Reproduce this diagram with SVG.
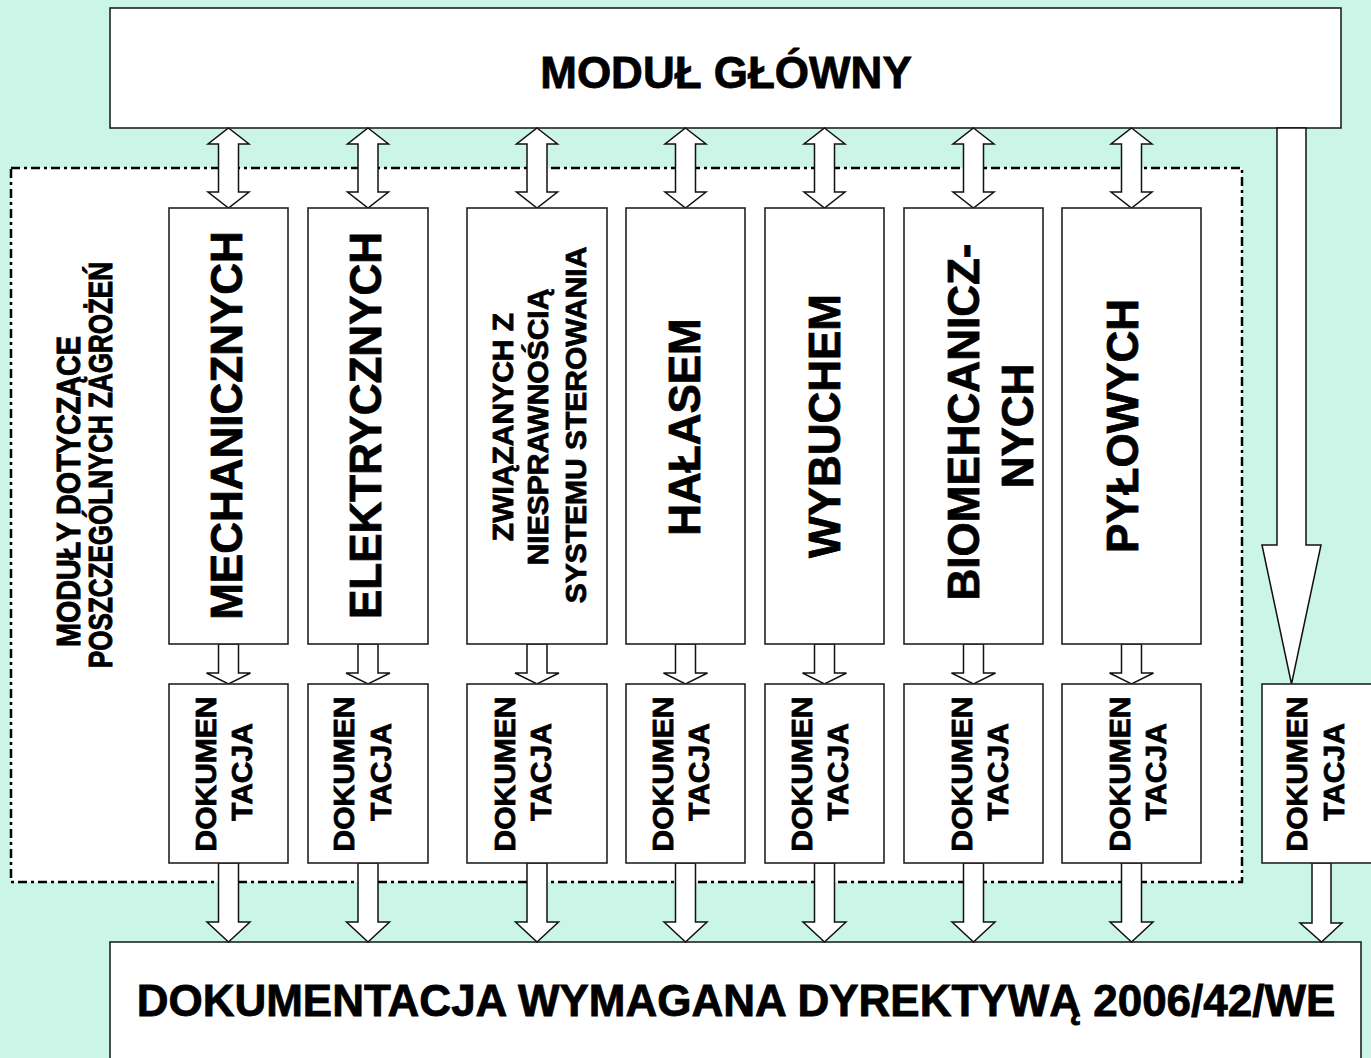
<svg xmlns="http://www.w3.org/2000/svg" width="1371" height="1058" viewBox="0 0 1371 1058">
<style>
.box{fill:#fff;stroke:#222;stroke-width:1.6}
.arr{fill:#fff;stroke:#111;stroke-width:1.5;stroke-linejoin:miter}
.t{font-family:"Liberation Sans",Arial,sans-serif;font-weight:bold;fill:#000;stroke:#000;stroke-width:0.8}
.big{font-size:44px}
.mid{font-size:30px}
.side{font-size:34px;stroke-width:1}
</style>
<rect x="0" y="0" width="1371" height="1058" fill="#CBF5E6"/>
<g id="group-frame">
<rect x="11" y="168" width="1231" height="714" fill="#fff" stroke="#000" stroke-width="2.5" stroke-dasharray="9 4 3 4"/>
<text class="t side" transform="translate(80,491.5) rotate(-90)" text-anchor="middle" textLength="311" lengthAdjust="spacingAndGlyphs">MODUŁY DOTYCZĄCE</text>
<text class="t side" transform="translate(112,465) rotate(-90)" text-anchor="middle" textLength="406" lengthAdjust="spacingAndGlyphs">POSZCZEGÓLNYCH ZAGROŻEŃ</text>
</g>
<g id="node-main">
<rect class="box" x="110" y="8" width="1231" height="120"/>
<text class="t big" x="726" y="88" text-anchor="middle">MODUŁ GŁÓWNY</text>
</g>
<g id="node-docall">
<rect class="box" x="110" y="942" width="1251" height="130"/>
<text class="t big" x="736" y="1016" text-anchor="middle">DOKUMENTACJA WYMAGANA DYREKTYWĄ 2006/42/WE</text>
</g>
<g id="connectors">
<polygon class="arr" points="228.5,128 249,144 238.5,144 238.5,192 249,192 228.5,208 208,192 218.5,192 218.5,144 208,144"/>
<polygon class="arr" points="368,128 388.5,144 378,144 378,192 388.5,192 368,208 347.5,192 358,192 358,144 347.5,144"/>
<polygon class="arr" points="537,128 557.5,144 547,144 547,192 557.5,192 537,208 516.5,192 527,192 527,144 516.5,144"/>
<polygon class="arr" points="685.5,128 706,144 695.5,144 695.5,192 706,192 685.5,208 665,192 675.5,192 675.5,144 665,144"/>
<polygon class="arr" points="824.5,128 845,144 834.5,144 834.5,192 845,192 824.5,208 804,192 814.5,192 814.5,144 804,144"/>
<polygon class="arr" points="973.5,128 994,144 983.5,144 983.5,192 994,192 973.5,208 953,192 963.5,192 963.5,144 953,144"/>
<polygon class="arr" points="1131.5,128 1152,144 1141.5,144 1141.5,192 1152,192 1131.5,208 1111,192 1121.5,192 1121.5,144 1111,144"/>
<polygon class="arr" points="218.5,644 238.5,644 238.5,673 250.5,673 228.5,684 206.5,673 218.5,673"/>
<polygon class="arr" points="358,644 378,644 378,673 390,673 368,684 346,673 358,673"/>
<polygon class="arr" points="527,644 547,644 547,673 559,673 537,684 515,673 527,673"/>
<polygon class="arr" points="675.5,644 695.5,644 695.5,673 707.5,673 685.5,684 663.5,673 675.5,673"/>
<polygon class="arr" points="814.5,644 834.5,644 834.5,673 846.5,673 824.5,684 802.5,673 814.5,673"/>
<polygon class="arr" points="963.5,644 983.5,644 983.5,673 995.5,673 973.5,684 951.5,673 963.5,673"/>
<polygon class="arr" points="1121.5,644 1141.5,644 1141.5,673 1153.5,673 1131.5,684 1109.5,673 1121.5,673"/>
<polygon class="arr" points="218.5,863 238.5,863 238.5,922 250,922 228.5,942 207,922 218.5,922"/>
<polygon class="arr" points="358,863 378,863 378,922 389.5,922 368,942 346.5,922 358,922"/>
<polygon class="arr" points="527,863 547,863 547,922 558.5,922 537,942 515.5,922 527,922"/>
<polygon class="arr" points="675.5,863 695.5,863 695.5,922 707,922 685.5,942 664,922 675.5,922"/>
<polygon class="arr" points="814.5,863 834.5,863 834.5,922 846,922 824.5,942 803,922 814.5,922"/>
<polygon class="arr" points="963.5,863 983.5,863 983.5,922 995,922 973.5,942 952,922 963.5,922"/>
<polygon class="arr" points="1121.5,863 1141.5,863 1141.5,922 1153,922 1131.5,942 1110,922 1121.5,922"/>
<polygon class="arr" points="1277,128 1306,128 1306,545 1321,545 1291.5,684 1262,545 1277,545"/>
<polygon class="arr" points="1312,863 1331,863 1331,923 1342,923 1321.5,942 1300,923 1312,923"/>
</g>
<g id="node-mech">
<rect class="box" x="169" y="208" width="119" height="436"/>
<text class="t big" transform="translate(242,425.5) rotate(-90)" text-anchor="middle">MECHANICZNYCH</text>
</g>
<g id="node-elek">
<rect class="box" x="308" y="208" width="120" height="436"/>
<text class="t big" transform="translate(381,425.5) rotate(-90)" text-anchor="middle">ELEKTRYCZNYCH</text>
</g>
<g id="node-ster">
<rect class="box" x="467" y="208" width="140" height="436"/>
<text class="t mid" transform="translate(513,427) rotate(-90)" text-anchor="middle">ZWIĄZANYCH Z</text>
<text class="t mid" transform="translate(548,427) rotate(-90)" text-anchor="middle">NIESPRAWNOŚCIĄ</text>
<text class="t mid" transform="translate(586,425) rotate(-90)" text-anchor="middle">SYSTEMU STEROWANIA</text>
</g>
<g id="node-halas">
<rect class="box" x="626" y="208" width="119" height="436"/>
<text class="t big" transform="translate(700,427) rotate(-90)" text-anchor="middle">HAŁASEM</text>
</g>
<g id="node-wybuch">
<rect class="box" x="765" y="208" width="119" height="436"/>
<text class="t big" transform="translate(840,426) rotate(-90)" text-anchor="middle">WYBUCHEM</text>
</g>
<g id="node-bio">
<rect class="box" x="904" y="208" width="139" height="436"/>
<text class="t big" transform="translate(979,422) rotate(-90)" text-anchor="middle">BIOMEHCANICZ-</text>
<text class="t big" transform="translate(1033,426) rotate(-90)" text-anchor="middle">NYCH</text>
</g>
<g id="node-pyl">
<rect class="box" x="1062" y="208" width="139" height="436"/>
<text class="t big" transform="translate(1138,426) rotate(-90)" text-anchor="middle">PYŁOWYCH</text>
</g>
<g id="node-doc1">
<rect class="box" x="169" y="684" width="119" height="179"/>
<text class="t mid" transform="translate(216,774) rotate(-90)" text-anchor="middle">DOKUMEN</text>
<text class="t mid" transform="translate(252,772) rotate(-90)" text-anchor="middle">TACJA</text>
</g>
<g id="node-doc2">
<rect class="box" x="308" y="684" width="120" height="179"/>
<text class="t mid" transform="translate(354,774) rotate(-90)" text-anchor="middle">DOKUMEN</text>
<text class="t mid" transform="translate(391,772) rotate(-90)" text-anchor="middle">TACJA</text>
</g>
<g id="node-doc3">
<rect class="box" x="467" y="684" width="140" height="179"/>
<text class="t mid" transform="translate(515,774) rotate(-90)" text-anchor="middle">DOKUMEN</text>
<text class="t mid" transform="translate(551,772) rotate(-90)" text-anchor="middle">TACJA</text>
</g>
<g id="node-doc4">
<rect class="box" x="626" y="684" width="119" height="179"/>
<text class="t mid" transform="translate(673,774) rotate(-90)" text-anchor="middle">DOKUMEN</text>
<text class="t mid" transform="translate(709,772) rotate(-90)" text-anchor="middle">TACJA</text>
</g>
<g id="node-doc5">
<rect class="box" x="765" y="684" width="119" height="179"/>
<text class="t mid" transform="translate(812,774) rotate(-90)" text-anchor="middle">DOKUMEN</text>
<text class="t mid" transform="translate(848,772) rotate(-90)" text-anchor="middle">TACJA</text>
</g>
<g id="node-doc6">
<rect class="box" x="904" y="684" width="139" height="179"/>
<text class="t mid" transform="translate(972,774) rotate(-90)" text-anchor="middle">DOKUMEN</text>
<text class="t mid" transform="translate(1008,772) rotate(-90)" text-anchor="middle">TACJA</text>
</g>
<g id="node-doc7">
<rect class="box" x="1062" y="684" width="139" height="179"/>
<text class="t mid" transform="translate(1130,774) rotate(-90)" text-anchor="middle">DOKUMEN</text>
<text class="t mid" transform="translate(1166,772) rotate(-90)" text-anchor="middle">TACJA</text>
</g>
<g id="node-docmain">
<rect class="box" x="1262" y="684" width="120" height="179"/>
<text class="t mid" transform="translate(1307,774) rotate(-90)" text-anchor="middle">DOKUMEN</text>
<text class="t mid" transform="translate(1344,772) rotate(-90)" text-anchor="middle">TACJA</text>
</g>
</svg>
